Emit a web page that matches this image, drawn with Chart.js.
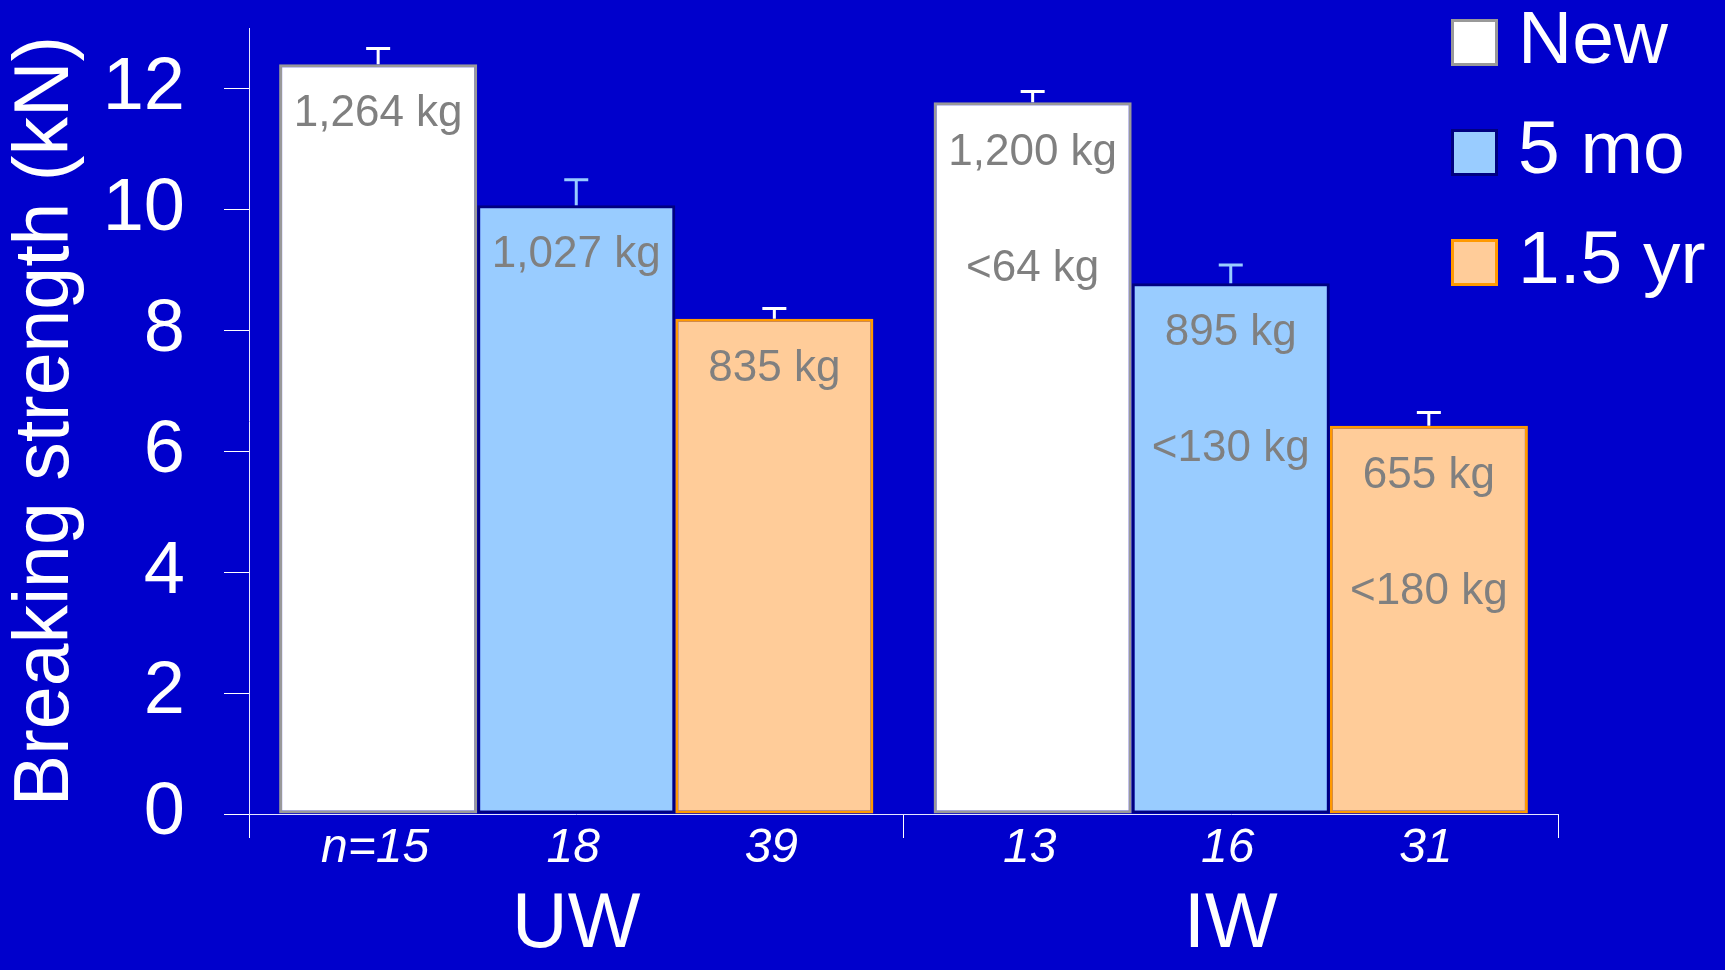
<!DOCTYPE html>
<html>
<head>
<meta charset="utf-8">
<script src="https://cdn.jsdelivr.net/npm/chart.js@4.4.1/dist/chart.umd.min.js"></script>
<style>
  html, body { margin: 0; padding: 0; background: #0000cc; }
  #wrap { width: 1725px; height: 970px; }
</style>
</head>
<body>
<div id="wrap"><canvas id="myChart"></canvas></div>
<script>
// categorias y series
const groups = ['UW', 'IW'];
const seriesNames = ['New', '5 mo', '1.5 yr'];

// resistencia media (kN) por serie, una entrada por grupo
const strengthNew = [12.40, 11.77];
const strength5mo = [10.07, 8.78];
const strength15yr = [8.19, 6.42];

// barras de error (+)
const errNew = [0.26, 0.18];
const err5mo = [0.42, 0.30];
const err15yr = [0.17, 0.22];

// textos dentro de las barras
const kgNew = ['1,264 kg', '1,200 kg'];
const kg5mo = ['1,027 kg', '895 kg'];
const kg15yr = ['835 kg', '655 kg'];
const lossNew = ['', '<64 kg'];
const loss5mo = ['', '<130 kg'];
const loss15yr = ['', '<180 kg'];

// tamano de muestra bajo cada barra
const nNew = ['n=15', '13'];
const n5mo = ['18', '16'];
const n15yr = ['39', '31'];

const FONT = '"Liberation Sans", Arial, sans-serif';

const fondo = {
  id: 'fondo',
  beforeDraw(chart) {
    const ctx = chart.ctx;
    ctx.save();
    ctx.fillStyle = '#0000cc';
    ctx.fillRect(0, 0, chart.width, chart.height);
    ctx.restore();
  }
};

// barras de error, etiquetas kg y n
const extrasBarras = {
  id: 'extrasBarras',
  afterDatasetsDraw(chart) {
    const ctx = chart.ctx;
    const y = chart.scales.y;
    chart.data.datasets.forEach((ds, i) => {
      const meta = chart.getDatasetMeta(i);
      meta.data.forEach((bar, j) => {
        const top = y.getPixelForValue(ds.data[j] + ds.errors[j]);
        ctx.save();
        ctx.strokeStyle = ds.errorColor;
        ctx.lineWidth = 3;
        ctx.beginPath();
        ctx.moveTo(bar.x, bar.y);
        ctx.lineTo(bar.x, top);
        ctx.moveTo(bar.x - 12, top);
        ctx.lineTo(bar.x + 12, top);
        ctx.stroke();

        ctx.fillStyle = '#808080';
        ctx.font = '44px ' + FONT;
        ctx.textAlign = 'center';
        ctx.textBaseline = 'middle';
        ctx.fillText(ds.kg[j], bar.x, bar.y + 50);
        if (ds.loss[j]) {
          ctx.fillText(ds.loss[j], bar.x, bar.y + 166);
        }

        ctx.fillStyle = '#ffffff';
        ctx.font = 'italic 48px ' + FONT;
        ctx.fillText(ds.n[j], bar.x - 3, y.bottom + 35);
        ctx.restore();
      });
    });
  }
};

// leyenda arriba a la derecha
const leyenda = {
  id: 'leyenda',
  afterDraw(chart) {
    const ctx = chart.ctx;
    ctx.save();
    chart.data.datasets.forEach((ds, i) => {
      const cy = 42 + i * 110;
      ctx.fillStyle = ds.backgroundColor;
      ctx.fillRect(1451, cy - 23, 47, 47);
      ctx.strokeStyle = ds.borderColor;
      ctx.lineWidth = 3;
      ctx.strokeRect(1452.5, cy - 21.5, 44, 44);
      ctx.fillStyle = '#ffffff';
      ctx.font = '75px ' + FONT;
      ctx.textAlign = 'left';
      ctx.textBaseline = 'middle';
      ctx.fillText(ds.label, 1518, cy);
    });
    ctx.restore();
  }
};

const ctx = document.getElementById('myChart').getContext('2d');
new Chart(ctx, {
  type: 'bar',
  data: {
    labels: groups,
    datasets: [
      {
        label: seriesNames[0], data: strengthNew, errors: errNew, kg: kgNew, loss: lossNew, n: nNew,
        backgroundColor: '#ffffff', borderColor: '#999999', borderWidth: 3, errorColor: '#ffffff'
      },
      {
        label: seriesNames[1], data: strength5mo, errors: err5mo, kg: kg5mo, loss: loss5mo, n: n5mo,
        backgroundColor: '#99ccff', borderColor: '#000080', borderWidth: 3, errorColor: '#99ccff'
      },
      {
        label: seriesNames[2], data: strength15yr, errors: err15yr, kg: kg15yr, loss: loss15yr, n: n15yr,
        backgroundColor: '#ffcc99', borderColor: '#ff9900', borderWidth: 3, errorColor: '#ffffff'
      }
    ]
  },
  options: {
    responsive: true,
    maintainAspectRatio: false,
    animation: false,
    layout: { padding: { top: 28, right: 167, bottom: 0, left: 0 } },
    datasets: {
      bar: { categoryPercentage: 0.908, barPercentage: 1, borderSkipped: false }
    },
    plugins: {
      legend: { display: false },
      tooltip: { enabled: false }
    },
    scales: {
      x: {
        offset: true,
        grid: { offset: true, drawOnChartArea: false, drawTicks: true, tickLength: 24, color: '#ffffff', lineWidth: 1 },
        border: { color: '#e6e6ff', width: 1 },
        ticks: { color: '#ffffff', padding: 42, font: { family: FONT, size: 77 } },
        afterFit(scale) {
          scale.height = 156;
          scale.paddingLeft = 0;
          scale.paddingRight = 0;
        }
      },
      y: {
        min: 0,
        max: 13,
        grid: { drawOnChartArea: false, drawTicks: true, tickLength: 25, color: '#ffffff', lineWidth: 1 },
        border: { color: '#e6e6ff', width: 1 },
        ticks: { stepSize: 2, includeBounds: false, color: '#ffffff', padding: 39, font: { family: FONT, size: 74 } },
        title: {
          display: true,
          text: 'Breaking strength (kN)',
          color: '#ffffff',
          padding: { top: 1, bottom: 0 },
          font: { family: FONT, size: 77 }
        },
        afterFit(scale) {
          scale.width = 249;
          scale.paddingTop = 0;
          scale.paddingBottom = 0;
        }
      }
    }
  },
  plugins: [fondo, extrasBarras, leyenda]
});
</script>
</body>
</html>
